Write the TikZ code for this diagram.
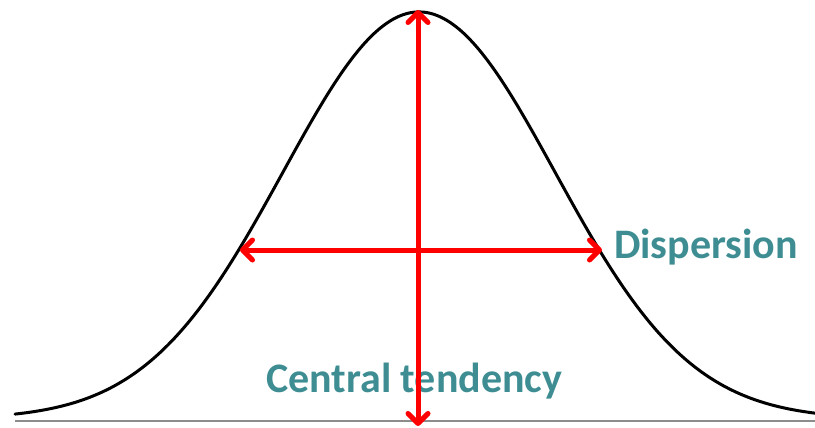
\documentclass[tikz,border=0pt]{standalone}
\usepackage{fontspec}
\setmainfont{Carlito}
\usetikzlibrary{arrows.meta}
\definecolor{tealtext}{RGB}{62,141,146}
\definecolor{arrowred}{RGB}{255,0,0}
\tikzset{
  redarrow/.style={draw=arrowred, line width=5pt,
    {Straight Barb[length=10pt,width=20pt,line width=5pt,round]}-{Straight Barb[length=10pt,width=20pt,line width=5pt,round]}},
  label text/.style={text=tealtext, font=\bfseries\fontsize{42}{48}\selectfont, inner sep=0pt},
  bell/.style={draw=black, line width=3pt, line cap=round},
  axis/.style={draw=black!45, line width=1.6pt}
}
\begin{document}
\begin{tikzpicture}[x=1pt,y=-1pt]
\useasboundingbox (0,0) rectangle (815,428);
\coordinate (axL) at (15,421);
\coordinate (axR) at (815,421);
\draw[axis] (axL) -- (axR);
\draw[bell] plot[domain=15:815, samples=240, smooth] (\x, {419 - 407*exp(-0.5*((\x-419)/136)^2)});
\node[label text, anchor=base west] (disp) at (614,258) {Dispersion};
\node[label text, anchor=base west] (cent) at (266,392) {Central tendency};
\coordinate (top) at (418,10);
\coordinate (bot) at (418,426);
\coordinate (hl) at (240,250);
\coordinate (hr) at (602,250);
\draw[redarrow] (bot) -- (top);
\draw[redarrow] (hl) -- (hr);
\end{tikzpicture}
\end{document}
